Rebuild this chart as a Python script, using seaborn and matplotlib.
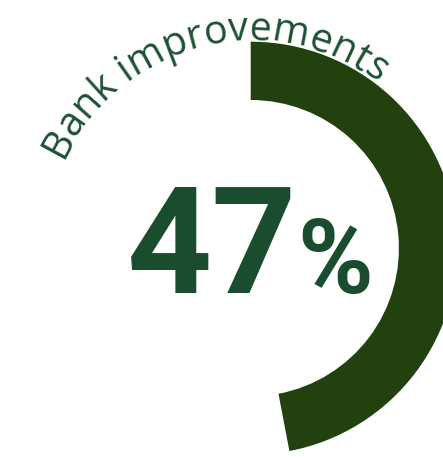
import numpy as np
import matplotlib
matplotlib.use("Agg")
import matplotlib.pyplot as plt
from matplotlib.font_manager import FontProperties
import seaborn as sns

# Gauge content
label = "Bank improvements"
share = [47, 53]          # filled part, remainder of the ring
value_text = "47"
unit_text = "%"

ARC_COLOR = "#22410e"
TEXT_COLOR = "#1a4d2e"
LABEL_COLOR = "#1c5232"

sns.set_style("white")

W, H = 443, 459
fig = plt.figure(figsize=(W / 100, H / 100), dpi=100)
ax = fig.add_axes([0, 0, 1, 1])

# Ring geometry in pixel units
cx, cy = 250.7, H - 248.2
r_out, r_in = 206.5, 148.2

ax.pie(share, colors=[ARC_COLOR, "none"], startangle=90, counterclock=False,
       center=(cx, cy), radius=r_out,
       wedgeprops=dict(width=r_out - r_in, linewidth=0, edgecolor="none"))
ax.set_xlim(0, W)
ax.set_ylim(0, H)
ax.set_aspect("equal")
ax.axis("off")

# Label set along a circle around the ring
prop = FontProperties(family="Open Sans", size=28.5)
renderer = fig.canvas.get_renderer()


def text_width(s):
    ref = "l"
    w_ref = renderer.get_text_width_height_descent(ref, prop, ismath=False)[0]
    w = renderer.get_text_width_height_descent(s + ref, prop, ismath=False)[0]
    return w - w_ref


r_base = 208.0
start = np.deg2rad(-65.0)
for i, ch in enumerate(label):
    left = text_width(label[:i]) if i else 0.0
    adv = text_width(label[:i + 1]) - left
    s_mid = left + adv / 2
    th = start + s_mid / r_base
    if ch == " ":
        continue
    x = cx + r_base * np.sin(th)
    y = cy + r_base * np.cos(th)
    ax.text(x, y, ch, fontproperties=prop, color=LABEL_COLOR,
            rotation=-np.rad2deg(th), rotation_mode="anchor",
            ha="center", va="baseline")

# Central value
ax.text(127, H - 293, value_text, family="Roboto", fontweight="bold",
        fontsize=107, color=TEXT_COLOR, ha="left", va="baseline")
ax.text(297, H - 293, unit_text, family="Roboto", fontweight="bold",
        fontsize=74, color=TEXT_COLOR, ha="left", va="baseline")

fig.savefig("out.png", dpi=100)
